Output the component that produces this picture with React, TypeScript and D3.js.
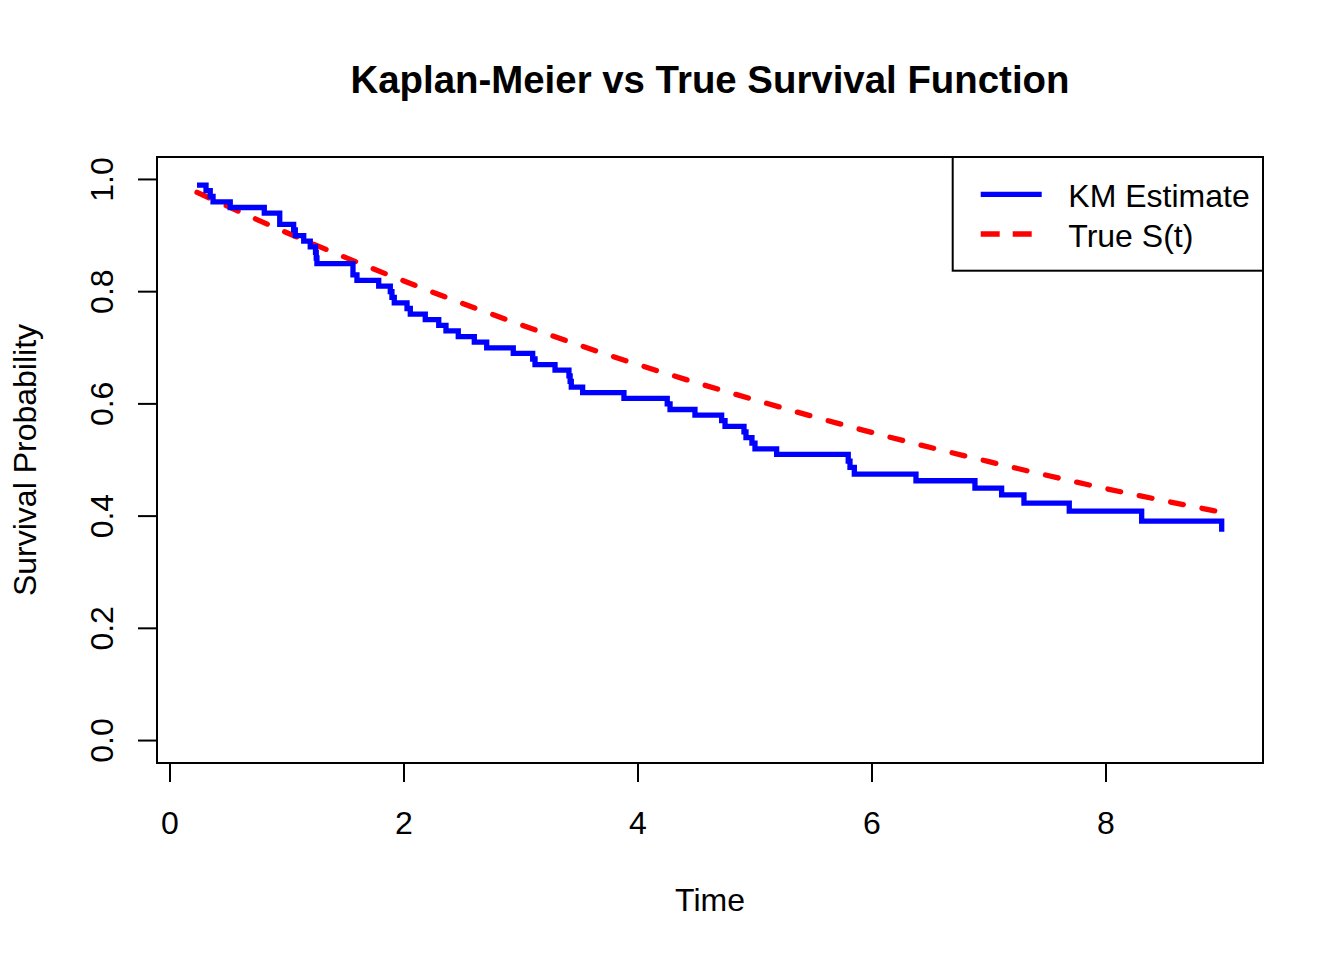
import React from "react";
import * as d3 from "d3";

const kmTime = [0.231, 0.308, 0.344, 0.368, 0.515, 0.806, 0.938, 1.057, 1.071, 1.143, 1.199, 1.244, 1.25, 1.256, 1.564, 1.598, 1.784, 1.883, 1.897, 1.917, 2.026, 2.054, 2.182, 2.297, 2.359, 2.464, 2.601, 2.707, 2.934, 3.1, 3.12, 3.291, 3.41, 3.42, 3.43, 3.527, 3.88, 4.25, 4.274, 4.487, 4.715, 4.744, 4.906, 4.923, 4.974, 5.0, 5.185, 5.797, 5.812, 5.849, 6.376, 6.88, 7.108, 7.299, 7.686, 8.305, 8.989];
const kmSurv = [0.99, 0.98, 0.97, 0.96, 0.95, 0.94, 0.92, 0.91, 0.9, 0.89, 0.88, 0.87, 0.86, 0.85, 0.83, 0.82, 0.81, 0.8, 0.79, 0.78, 0.77, 0.76, 0.75, 0.74, 0.73, 0.72, 0.71, 0.7, 0.69, 0.68, 0.67, 0.66, 0.65, 0.64, 0.63, 0.62, 0.61, 0.6, 0.59, 0.58, 0.57, 0.56, 0.55, 0.54, 0.53, 0.52, 0.51, 0.498, 0.487, 0.475, 0.463, 0.45, 0.438, 0.423, 0.409, 0.391, 0.372];

const trueTime = [0.231, 1, 2, 3, 4, 5, 6, 7, 8, 8.989];
const trueSurv = [0.977, 0.905, 0.819, 0.741, 0.67, 0.607, 0.549, 0.497, 0.449, 0.407];

const xTicks = [0, 2, 4, 6, 8];
const yTicks = [0, 0.2, 0.4, 0.6, 0.8, 1.0];

const titleText = "Kaplan-Meier vs True Survival Function";
const xLabel = "Time";
const yLabel = "Survival Probability";
const legendLabels = ["KM Estimate", "True S(t)"];

const W = 1344;
const H = 960;
const box = { left: 157, right: 1263, top: 157, bottom: 763 };
const FONT = "'Liberation Sans', Arial, Helvetica, sans-serif";

export default function App() {
  const x = d3.scaleLinear().domain([-0.111, 9.342]).range([box.left, box.right]);
  const y = d3.scaleLinear().domain([-0.04, 1.04]).range([box.bottom, box.top]);

  const kmPts: [number, number][] = kmTime.map((t, i) => [t, kmSurv[i]]);
  const truePts: [number, number][] = trueTime.map((t, i) => [t, trueSurv[i]]);

  const kmLine = d3
    .line<[number, number]>()
    .x((d) => x(d[0]))
    .y((d) => y(d[1]))
    .curve(d3.curveStepAfter);
  const trueLine = d3
    .line<[number, number]>()
    .x((d) => x(d[0]))
    .y((d) => y(d[1]))
    .curve(d3.curveMonotoneX);

  const tickLen = 19;
  const fs = 32;

  return (
    <svg
      width={W}
      height={H}
      style={{ position: "absolute", left: 0, top: 0, background: "#fff" }}
      fontFamily={FONT}
    >
      <rect x={0} y={0} width={W} height={H} fill="#fff" />
      {/* title */}
      <text x={(box.left + box.right) / 2} y={93} textAnchor="middle" fontSize={38.4} fontWeight="bold">
        {titleText}
      </text>

      {/* lines */}
      <path d={trueLine(truePts) || ""} fill="none" stroke="#FF0000" strokeWidth={5.3} strokeDasharray="13 19" strokeLinecap="round" />
      <path d={kmLine(kmPts) || ""} fill="none" stroke="#0000FF" strokeWidth={5.3} strokeLinecap="butt" />

      {/* box */}
      <rect x={box.left} y={box.top} width={box.right - box.left} height={box.bottom - box.top} fill="none" stroke="#000" strokeWidth={2} />

      {/* x axis */}
      <line x1={x(xTicks[0])} x2={x(xTicks[xTicks.length - 1])} y1={box.bottom} y2={box.bottom} stroke="#000" strokeWidth={2} />
      {xTicks.map((t) => (
        <g key={"xt" + t}>
          <line x1={x(t)} x2={x(t)} y1={box.bottom} y2={box.bottom + tickLen} stroke="#000" strokeWidth={2} />
          <text x={x(t)} y={834} textAnchor="middle" fontSize={fs}>
            {String(t)}
          </text>
        </g>
      ))}
      <text x={(box.left + box.right) / 2} y={911} textAnchor="middle" fontSize={fs}>
        {xLabel}
      </text>

      {/* y axis */}
      <line x1={box.left} x2={box.left} y1={y(yTicks[0])} y2={y(yTicks[yTicks.length - 1])} stroke="#000" strokeWidth={2} />
      {yTicks.map((t) => (
        <g key={"yt" + t}>
          <line x1={box.left - tickLen} x2={box.left} y1={y(t)} y2={y(t)} stroke="#000" strokeWidth={2} />
          <text transform={`translate(${113},${y(t)}) rotate(-90)`} textAnchor="middle" fontSize={fs}>
            {t.toFixed(1)}
          </text>
        </g>
      ))}
      <text transform={`translate(${36},${(box.top + box.bottom) / 2}) rotate(-90)`} textAnchor="middle" fontSize={fs}>
        {yLabel}
      </text>

      {/* legend */}
      <rect x={952.7} y={box.top} width={box.right - 952.7} height={270.7 - box.top} fill="#fff" stroke="#000" strokeWidth={2} />
      <line x1={980.7} x2={1041.7} y1={194.3} y2={194.3} stroke="#0000FF" strokeWidth={5.3} />
      <line x1={980.7} x2={1041.7} y1={234} y2={234} stroke="#FF0000" strokeWidth={5.3} strokeDasharray="19 13" />
      <text x={1068.3} y={206.5} fontSize={fs}>
        {legendLabels[0]}
      </text>
      <text x={1068.3} y={246.5} fontSize={fs}>
        {legendLabels[1]}
      </text>
    </svg>
  );
}
